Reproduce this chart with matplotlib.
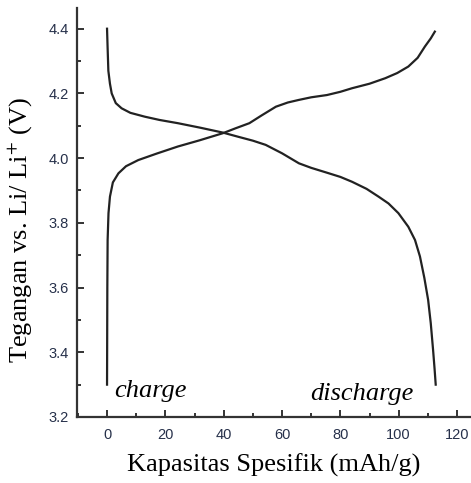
import matplotlib
matplotlib.use("Agg")
import matplotlib.pyplot as plt
from matplotlib.ticker import MultipleLocator

# kurva discharge (dari 4.4 V turun ke 3.3 V)
cap_dis = [0, 0.2, 0.45, 1.0, 1.6, 3.0, 5.0, 8.0, 13, 18, 24.3, 32, 39.7, 45, 50, 54.4,
           60, 65.8, 70, 75.4, 80, 84, 89, 93.1, 96.5, 99.9, 103.3, 105.6, 107.3,
           108.8, 110.1, 111.0, 111.8, 112.3, 112.7]
v_dis = [4.40, 4.34, 4.27, 4.23, 4.20, 4.17, 4.154, 4.14, 4.128, 4.118, 4.108, 4.094, 4.079,
         4.066, 4.054, 4.041, 4.015, 3.984, 3.970, 3.955, 3.942, 3.927, 3.905, 3.881,
         3.860, 3.830, 3.788, 3.747, 3.696, 3.63, 3.562, 3.49, 3.407, 3.35, 3.30]

# kurva charge (dari 3.3 V naik ke 4.4 V)
cap_chg = [0, 0.05, 0.1, 0.2, 0.5, 1.0, 2.0, 3.9, 6.5, 10.7, 17, 24.3, 31.7, 39.7, 44,
           48.8, 53, 57.9, 62, 65.8, 70, 75.4, 80, 84, 90, 95.4, 99.5, 103.3, 106.5,
           109, 111, 112.4]
v_chg = [3.30, 3.45, 3.60, 3.747, 3.83, 3.881, 3.925, 3.953, 3.975, 3.994, 4.014, 4.036,
         4.055, 4.077, 4.092, 4.108, 4.132, 4.159, 4.172, 4.180, 4.188, 4.195, 4.205,
         4.216, 4.230, 4.247, 4.263, 4.283, 4.310, 4.345, 4.370, 4.391]

plt.rcParams['mathtext.fontset'] = 'stix'

fig = plt.figure(figsize=(4.71, 4.83), dpi=100)
ax = fig.add_axes([77/471, 66/483, 394/471, 409/483])

ax.plot(cap_dis, v_dis, color="#222222", lw=1.6)
ax.plot(cap_chg, v_chg, color="#222222", lw=1.6)

ax.set_xlim(-10.3, 124.8)
ax.set_ylim(3.2, 4.464)
ax.xaxis.set_major_locator(MultipleLocator(20))
ax.xaxis.set_minor_locator(MultipleLocator(10))
ax.yaxis.set_major_locator(MultipleLocator(0.2))
ax.yaxis.set_minor_locator(MultipleLocator(0.1))
ax.yaxis.set_major_formatter(plt.FormatStrFormatter("%.1f"))

for s in ["top", "right"]:
    ax.spines[s].set_visible(False)
for s in ["left", "bottom"]:
    ax.spines[s].set_linewidth(1.6)
    ax.spines[s].set_color("#333333")

ax.tick_params(which="both", direction="in", color="#333333", width=1.4,
               labelsize=10.5, labelcolor="#26304a")
ax.tick_params(which="major", length=5)
ax.tick_params(which="minor", length=3)
ax.tick_params(axis="y", pad=6)
ax.tick_params(axis="x", pad=8)
for lab in ax.get_xticklabels() + ax.get_yticklabels():
    lab.set_family("Liberation Sans")

ax.set_xlabel("Kapasitas Spesifik (mAh/g)", family="Liberation Serif", fontsize=19)
ax.set_ylabel(r"Tegangan vs. Li/ Li$^{+}$ (V)", family="Liberation Serif", fontsize=19)
ax.xaxis.set_label_coords(0.5, -0.09)
ax.yaxis.set_label_coords(-0.11, 0.457)

ax.text(2.4, 3.262, "charge", family="Liberation Serif", style="italic", fontsize=19)
ax.text(69.5, 3.252, "discharge", family="Liberation Serif", style="italic", fontsize=19)

fig.savefig("out.png", dpi=100)
